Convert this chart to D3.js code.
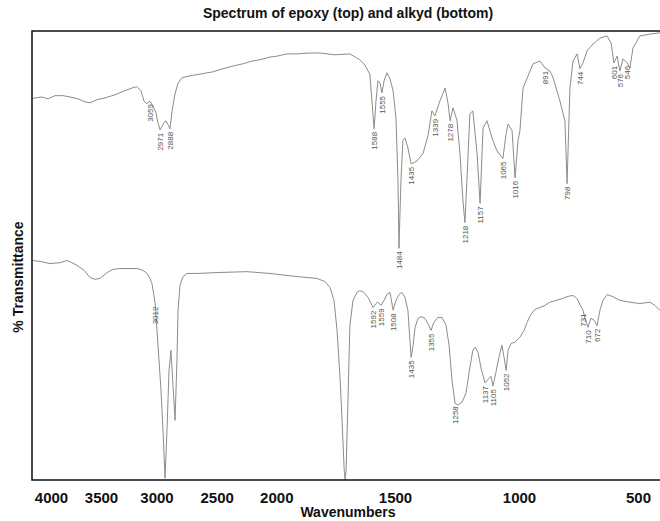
<!DOCTYPE html>
<html><head><meta charset="utf-8">
<script src="https://cdn.jsdelivr.net/npm/d3@7/dist/d3.min.js"></script>
<style>body{margin:0;background:#fff}svg{display:block}text{font-family:"Liberation Sans",Arial,sans-serif}</style>
</head><body>
<script>
// ---- data ----
const tickLabels = [4000, 3500, 3000, 2500, 2000, 1500, 1000, 500];

const epoxyWn = [4190,4160,4090,4030,3960,3880,3810,3730,3660,3610,3540,3464,3374,3284,3221,3176,3140,3113,3086,3059,3032,3005,2988,2971,2954,2938,2921,2904,2888,2871,2846,2821,2788,2722,2639,2531,2447,2363,2279,2204,2137,2053,1997,1955,1913,1858,1816,1753,1690,1648,1627,1606,1597,1588,1580,1572,1563,1555,1546,1534,1521,1508,1496,1488,1484,1476,1468,1460,1448,1435,1423,1411,1387,1367,1351,1339,1319,1298,1286,1278,1266,1250,1238,1226,1218,1210,1198,1186,1169,1157,1145,1129,1109,1089,1065,1052,1044,1028,1016,1004,996,983,962,941,912,891,870,857,828,807,798,786,773,756,744,731,714,689,660,630,613,601,588,576,563,546,534,521,504,492,450,408];
const epoxyT = [84.9,85.1,85.3,84.9,85.6,85.6,85.3,84.9,84.2,84.0,84.7,85.1,85.8,86.7,87.3,87.6,86.7,84.4,83.8,84.4,83.3,81.8,79.6,78.0,78.7,79.6,80.0,79.1,78.2,82.2,86.0,88.4,89.6,90.0,90.4,90.9,91.6,92.2,92.7,93.3,93.6,94.2,94.4,94.9,94.9,95.1,95.1,94.7,94.9,93.6,92.4,90.4,84.4,78.2,84.4,88.9,88.4,86.2,88.9,90.7,89.3,86.7,80.4,66.7,51.6,66.7,75.6,76.2,74.0,70.4,70.7,71.1,72.7,76.7,82.2,81.1,84.4,87.3,83.8,80.0,82.9,80.0,72.7,62.2,57.3,66.7,81.6,82.2,72.7,61.6,78.4,80.0,76.2,73.3,71.6,77.1,79.3,77.8,67.3,75.6,77.8,87.3,90.0,92.7,93.3,91.8,91.1,89.6,84.4,80.0,66.0,87.3,93.3,94.9,91.6,92.9,95.6,97.1,98.4,98.9,97.3,92.9,94.4,91.1,93.8,92.9,91.8,96.2,97.8,98.9,99.3,99.6];

const alkydWn = [4190,4110,4010,3910,3840,3790,3740,3670,3610,3560,3510,3446,3392,3329,3239,3176,3122,3086,3059,3041,3023,3012,2996,2979,2963,2946,2929,2913,2896,2880,2863,2846,2830,2821,2805,2780,2747,2664,2497,2246,2053,1913,1829,1795,1774,1757,1744,1731,1723,1714,1710,1706,1698,1690,1677,1660,1648,1631,1614,1601,1592,1580,1572,1559,1546,1534,1521,1508,1496,1484,1472,1460,1448,1435,1427,1419,1407,1395,1379,1363,1355,1343,1327,1310,1294,1282,1270,1258,1246,1230,1214,1198,1186,1177,1165,1153,1137,1125,1113,1105,1093,1081,1069,1060,1052,1044,1032,1016,996,979,966,950,933,912,891,870,845,819,794,773,756,744,731,723,710,698,685,672,660,647,630,609,576,534,492,450,429,408];
const alkydT = [48.9,48.7,48.2,48.4,48.9,48.4,47.8,46.7,45.1,44.7,44.9,46.2,46.9,47.1,47.1,47.1,46.7,46.0,44.9,43.8,41.1,39.3,33.3,26.7,20.0,11.1,0.4,11.1,24.4,28.9,21.1,13.3,26.7,37.8,43.3,45.3,46.0,46.0,46.2,46.4,46.0,45.3,44.9,44.2,42.9,40.0,33.3,22.2,13.3,2.2,0.0,2.2,17.8,34.4,40.0,41.8,42.2,41.8,40.7,39.3,38.4,39.3,39.6,38.9,40.0,41.3,41.8,37.8,40.0,41.3,41.8,40.7,37.8,27.3,30.0,34.0,36.0,36.4,36.0,34.4,33.3,35.1,36.2,36.2,34.4,30.0,22.2,17.1,16.7,17.3,19.3,25.1,28.9,29.6,28.4,24.9,21.6,22.4,23.1,20.9,24.0,27.3,30.0,27.3,24.4,28.9,30.4,30.7,31.8,33.3,35.1,36.9,38.0,38.4,38.9,39.6,40.0,40.4,40.9,41.1,40.4,39.1,37.8,36.0,34.0,36.0,35.6,34.4,37.8,40.0,41.3,40.9,40.0,39.6,39.3,39.6,38.9,37.8];

const epoxyPeaks = [3059,2971,2888,1588,1555,1484,1435,1339,1278,1218,1157,1065,1016,891,798,744,601,576,546];
const alkydPeaks = [3012,1592,1559,1508,1435,1355,1258,1137,1105,1052,731,710,672];

const titleText = "Spectrum of epoxy (top) and alkyd (bottom)";
const xTitle = "Wavenumbers";
const yTitle = "% Transmittance";

// ---- chart ----
const W = 660, H = 521;
const box = {left: 32, top: 31, right: 660, bottom: 480};
const svg = d3.select("body").append("svg").attr("width", W).attr("height", H);

const x = d3.scaleLinear()
  .domain(tickLabels)
  .range([51, 101, 156.5, 216.7, 276.3, 395, 519, 638]);
const y = d3.scaleLinear().domain([0, 100]).range([box.bottom, box.top]);

svg.append("defs").append("clipPath").attr("id", "clip")
  .append("rect").attr("x", box.left).attr("y", box.top)
  .attr("width", box.right - box.left).attr("height", box.bottom - box.top);

const line = d3.line().x(d => x(d[0])).y(d => y(d[1]));
const g = svg.append("g").attr("clip-path", "url(#clip)");

function drawSeries(wn, t, peaks) {
  const pts = wn.map((w, i) => [w, t[i]]);
  g.append("path").datum(pts).attr("d", line)
    .attr("fill", "none").attr("stroke", "#8c8c8c").attr("stroke-width", 1);
  peaks.forEach(p => {
    const i = wn.indexOf(p);
    const px = x(p), py = y(t[i]) + 3;
    g.append("text").attr("transform", `translate(${px + 3},${py}) rotate(-90)`)
      .attr("text-anchor", "end").attr("font-size", 8).attr("fill", "#555")
      .text(String(p));
  });
}
drawSeries(epoxyWn, epoxyT, epoxyPeaks);
drawSeries(alkydWn, alkydT, alkydPeaks);

// frame
svg.append("path")
  .attr("d", `M${box.right},${box.top}H${box.left}V${box.bottom}H${box.right}`)
  .attr("fill", "none").attr("stroke", "#111").attr("stroke-width", 1.5);

// x axis labels (no tick marks)
const xAxis = d3.axisBottom(x).tickValues(tickLabels).tickSize(0).tickPadding(0).tickFormat(d3.format("d"));
const ax = svg.append("g").attr("transform", `translate(0,${box.bottom})`).call(xAxis);
ax.select(".domain").remove();
ax.selectAll("text").attr("y", 12).attr("dy", "0.71em")
  .attr("font-size", 15).attr("font-weight", "bold").attr("fill", "#111")
  .attr("font-family", '"Liberation Sans",Arial,sans-serif');

svg.append("text").attr("x", 348).attr("y", 18).attr("text-anchor", "middle")
  .attr("font-size", 14).attr("font-weight", "bold").attr("fill", "#111").text(titleText);
svg.append("text").attr("x", 348).attr("y", 517).attr("text-anchor", "middle")
  .attr("font-size", 14).attr("font-weight", "bold").attr("fill", "#111").text(xTitle);
svg.append("text").attr("transform", "translate(23,277) rotate(-90)").attr("text-anchor", "middle")
  .attr("font-size", 14).attr("font-weight", "bold").attr("fill", "#111").text(yTitle);
</script>
</body></html>
